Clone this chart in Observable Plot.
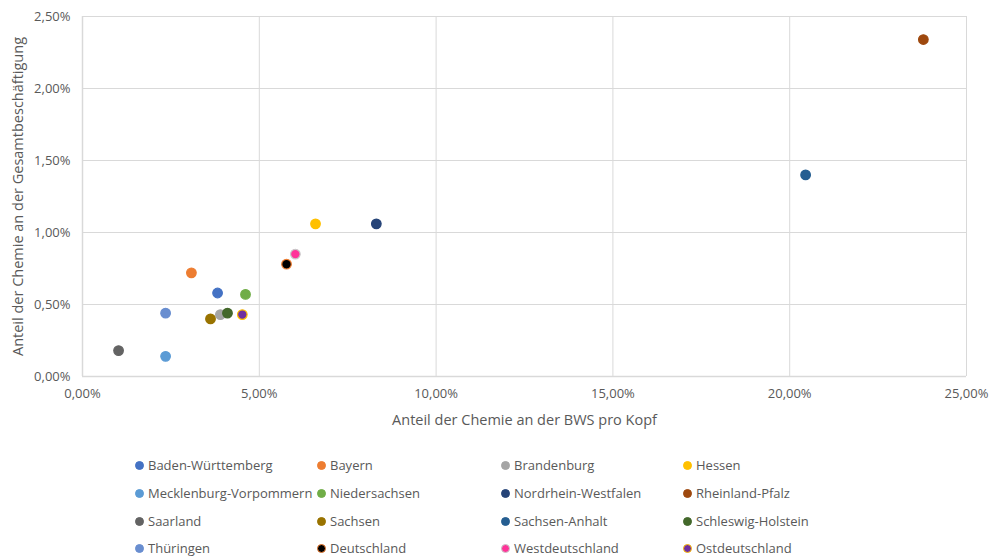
<!DOCTYPE html>
<html>
<head>
<meta charset="utf-8">
<script src="https://cdn.jsdelivr.net/npm/d3@7"></script>
<script src="https://cdn.jsdelivr.net/npm/@observablehq/plot@0.6"></script>
<style>
  body { margin: 0; background: #fff; font-family: "Open Sans", sans-serif; }
  #chart { position: relative; width: 989px; height: 558px; }
  #legend { position: absolute; left: 0; top: 456px; width: 989px; }
  .item { position: absolute; display: flex; align-items: center; font-size: 13px; color: #595959; white-space: nowrap; }
  .sw { width: 9px; height: 9px; border-radius: 50%; margin-right: 4px; box-sizing: border-box; }
  svg g[aria-label="x-axis label"] text, svg g[aria-label="y-axis label"] text { font-size: 14.5px; }
</style>
</head>
<body>
<div id="chart"></div>
<script>
// Regions (Bundesländer and aggregates)
const regions = [
  "Baden-Württemberg", "Bayern", "Brandenburg", "Hessen",
  "Mecklenburg-Vorpommern", "Niedersachsen", "Nordrhein-Westfalen", "Rheinland-Pfalz",
  "Saarland", "Sachsen", "Sachsen-Anhalt", "Schleswig-Holstein",
  "Thüringen", "Deutschland", "Westdeutschland", "Ostdeutschland"
];
// Anteil der Chemie an der BWS pro Kopf (%)
const bwsShare = [3.82, 3.08, 3.90, 6.59, 2.35, 4.61, 8.31, 23.78, 1.02, 3.62, 20.45, 4.10, 2.35, 5.77, 6.02, 4.52];
// Anteil der Chemie an der Gesamtbeschäftigung (%)
const empShare = [0.58, 0.72, 0.43, 1.06, 0.14, 0.57, 1.06, 2.34, 0.18, 0.40, 1.40, 0.44, 0.44, 0.78, 0.85, 0.43];

// Marker fill and outline colours per region
const fillColors = ["#4472C4", "#ED7D31", "#A5A5A5", "#FFC000", "#5B9BD5", "#70AD47", "#264478", "#9E480E",
                    "#636363", "#997300", "#255E91", "#43682B", "#698ED0", "#000000", "#FF3399", "#7030A0"];
const strokeColors = ["#4472C4", "#ED7D31", "#A5A5A5", "#FFC000", "#5B9BD5", "#70AD47", "#264478", "#9E480E",
                      "#636363", "#997300", "#255E91", "#43682B", "#698ED0", "#ED7D31", "#C8C8C8", "#FFC000"];

const xTicks = [0, 5, 10, 15, 20, 25];
const yTicks = [0, 0.5, 1, 1.5, 2, 2.5];

const data = regions.map((name, i) => ({
  name, x: bwsShare[i], y: empShare[i], fill: fillColors[i], stroke: strokeColors[i]
}));

const pct = d => d.toFixed(2).replace(".", ",") + "%";

const chart = Plot.plot({
  width: 989,
  height: 440,
  marginLeft: 82,
  marginRight: 23,
  marginTop: 16,
  marginBottom: 64,
  style: { fontFamily: "Open Sans, sans-serif", fontSize: "13px", color: "#595959", background: "#fff" },
  color: { type: "identity" },
  x: { domain: [0, 25], ticks: xTicks, tickFormat: pct, tickSize: 0, tickPadding: 12,
       label: "Anteil der Chemie an der BWS pro Kopf", labelAnchor: "center", labelOffset: 48, labelArrow: "none" },
  y: { domain: [0, 2.5], ticks: yTicks, tickFormat: pct, tickSize: 0, tickPadding: 12,
       label: "Anteil der Chemie an der Gesamtbeschäftigung", labelAnchor: "center", labelOffset: 70, labelArrow: "none" },
  marks: [
    Plot.gridX(xTicks, { stroke: "#d9d9d9", strokeOpacity: 1 }),
    Plot.gridY(yTicks, { stroke: "#d9d9d9", strokeOpacity: 1 }),
    Plot.ruleX([0], { stroke: "#d9d9d9", strokeWidth: 1.5 }),
    Plot.ruleY([0], { stroke: "#d9d9d9", strokeWidth: 1.5 }),
    Plot.dot(data, { x: "x", y: "y", r: 4.8, fill: "fill", stroke: "stroke", strokeWidth: 1.2 })
  ]
});
document.getElementById("chart").appendChild(chart);

// Legend: four columns, four rows
const legend = document.createElement("div");
legend.id = "legend";
const colX = [135, 317, 501, 683];
const rowY = [0, 28, 56, 83];
regions.forEach((name, i) => {
  const item = document.createElement("div");
  item.className = "item";
  item.style.left = colX[i % 4] + "px";
  item.style.top = rowY[Math.floor(i / 4)] + "px";
  const sw = document.createElement("span");
  sw.className = "sw";
  sw.style.background = fillColors[i];
  sw.style.border = "1.5px solid " + strokeColors[i];
  item.appendChild(sw);
  item.appendChild(document.createTextNode(name));
  legend.appendChild(item);
});
document.getElementById("chart").appendChild(legend);
</script>
</body>
</html>
